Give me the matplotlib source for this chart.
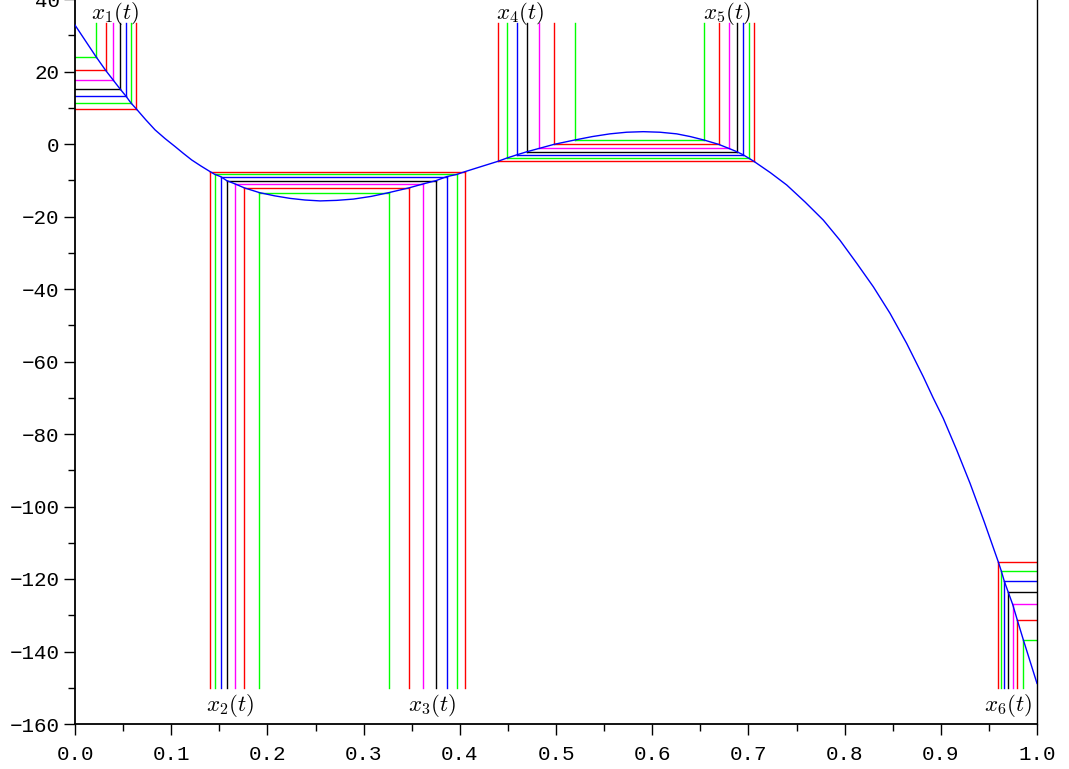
# Curve with level lines and root markers x1(t)..x6(t), Scilab-style axes.
import numpy as np
import matplotlib
matplotlib.use("Agg")
import matplotlib.pyplot as plt
from matplotlib.ticker import MultipleLocator, FuncFormatter

# --- curve ---
curve_x = [0.0, 0.0218, 0.0319, 0.0398, 0.0468, 0.0530, 0.0582, 0.0637, 0.0735,
           0.0832, 0.0936, 0.104, 0.1127, 0.1213, 0.1308, 0.1403, 0.1455, 0.1515,
           0.1577, 0.1663, 0.1760, 0.1916, 0.2075, 0.2235, 0.239, 0.2547, 0.272,
           0.2893, 0.308, 0.3264, 0.3472, 0.3621, 0.3753, 0.3864, 0.3968, 0.4057,
           0.4225, 0.4394, 0.4487, 0.4591, 0.4702, 0.4827, 0.4979, 0.5194, 0.5378,
           0.5561, 0.5735, 0.5908, 0.608, 0.6254, 0.6396, 0.6538, 0.6691, 0.6795,
           0.6878, 0.6947, 0.7003, 0.7058, 0.7228, 0.7398, 0.7589, 0.7779, 0.7953,
           0.8126, 0.8299, 0.8472, 0.8645, 0.8818, 0.892, 0.9026, 0.9165, 0.9304,
           0.9451, 0.9598, 0.9629, 0.9660, 0.9702, 0.9747, 0.9795, 0.9857, 1.0]
curve_y = [32.8, 24.1, 20.3, 17.6, 15.2, 13.2, 11.3, 9.7, 6.7,
           3.9, 1.5, -0.7, -2.6, -4.4, -6.05, -7.6, -8.4, -9.0,
           -10.1, -11.0, -12.1, -13.4, -14.3, -15.0, -15.45, -15.7, -15.55,
           -15.2, -14.45, -13.4, -12.1, -11.0, -10.1, -9.0, -8.4, -7.6,
           -6.2, -4.8, -3.9, -3.0, -2.1, -1.2, -0.1, 1.1, 2.05,
           2.8, 3.25, 3.4, 3.25, 2.8, 2.05, 1.1, -0.1, -1.2,
           -2.1, -3.0, -3.9, -4.8, -7.9, -11.3, -16.0, -21.0, -26.6,
           -32.9, -39.4, -46.7, -55.0, -64.2, -70.0, -75.7, -84.4, -93.6,
           -104.2, -115.3, -117.8, -120.6, -123.7, -127.0, -131.3, -136.7, -148.8]

# --- levels t and roots for each group (index i shares a colour) ---
t1 = [9.7, 11.3, 13.2, 15.2, 17.6, 20.3, 24.1]
x1 = [0.0637, 0.0582, 0.0530, 0.0468, 0.0398, 0.0319, 0.0218]

t23 = [-7.6, -8.4, -9.0, -10.1, -11.0, -12.1, -13.4]
x2 = [0.1403, 0.1455, 0.1515, 0.1577, 0.1663, 0.1760, 0.1916]
x3 = [0.4057, 0.3968, 0.3864, 0.3753, 0.3621, 0.3472, 0.3264]

t45 = [-4.8, -3.9, -3.0, -2.1, -1.2, -0.1, 1.1]
x4 = [0.4394, 0.4487, 0.4591, 0.4702, 0.4827, 0.4979, 0.5194]
x5 = [0.7058, 0.7003, 0.6947, 0.6878, 0.6795, 0.6691, 0.6538]

t6 = [-115.3, -117.8, -120.6, -123.7, -127.0, -131.3, -136.7]
x6 = [0.9598, 0.9629, 0.9660, 0.9702, 0.9747, 0.9795, 0.9857]

y_top = 33.3      # upper end of the upward root markers
y_bot = -150.2    # lower end of the downward root markers

colors = ["#ff0000", "#00ff00", "#0000ff", "#000000", "#ff00ff", "#ff0000", "#00ff00"]

labels = [("$x_1(t)$", 0.0416, 35.9), ("$x_2(t)$", 0.161, -154.8),
          ("$x_3(t)$", 0.371, -154.8), ("$x_4(t)$", 0.4626, 35.9),
          ("$x_5(t)$", 0.6778, 35.9), ("$x_6(t)$", 0.970, -154.8)]

W, H = 1069, 769
fig = plt.figure(figsize=(W / 100, H / 100), dpi=100)
ax = fig.add_axes([75 / W, 45 / H, 962 / W, 725 / H])
ax.set_xlim(0, 1)
ax.set_ylim(-160, 40)

lw = 1.0
for i, c in enumerate(colors):
    # group 1: from the left border to the curve, marker goes up
    ax.plot([0, x1[i]], [t1[i], t1[i]], color=c, lw=lw)
    ax.plot([x1[i], x1[i]], [t1[i], y_top], color=c, lw=lw)
    # groups 2/3: across the dip, markers go down
    ax.plot([x2[i], x3[i]], [t23[i], t23[i]], color=c, lw=lw)
    ax.plot([x2[i], x2[i]], [t23[i], y_bot], color=c, lw=lw)
    ax.plot([x3[i], x3[i]], [t23[i], y_bot], color=c, lw=lw)
    # groups 4/5: under the hump, markers go up
    ax.plot([x4[i], x5[i]], [t45[i], t45[i]], color=c, lw=lw)
    ax.plot([x4[i], x4[i]], [t45[i], y_top], color=c, lw=lw)
    ax.plot([x5[i], x5[i]], [t45[i], y_top], color=c, lw=lw)
    # group 6: from the curve to the right border, marker goes down
    ax.plot([x6[i], 1.0], [t6[i], t6[i]], color=c, lw=lw)
    ax.plot([x6[i], x6[i]], [t6[i], y_bot], color=c, lw=lw)

ax.plot(curve_x, curve_y, color="#0000ff", lw=1.0, zorder=5)

for txt, lx, ly in labels:
    ax.text(lx, ly, txt, ha="center", va="center", fontsize=16.5,
            math_fontfamily="cm", clip_on=False)

# axes look
for s in ["left", "bottom"]:
    ax.spines[s].set_linewidth(1.3)
ax.spines["right"].set_linewidth(1.0)
ax.spines["top"].set_visible(False)

ax.xaxis.set_major_locator(MultipleLocator(0.1))
ax.xaxis.set_minor_locator(MultipleLocator(0.05))
ax.yaxis.set_major_locator(MultipleLocator(20))
ax.yaxis.set_minor_locator(MultipleLocator(10))
ax.xaxis.set_major_formatter(FuncFormatter(lambda v, p: f"{v:.1f}"))
ax.yaxis.set_major_formatter(
    FuncFormatter(lambda v, p: f"{int(round(v))}".replace("-", "\u2212")))
ax.tick_params(which="major", direction="out", length=8, width=1.0, pad=7)
ax.tick_params(which="minor", direction="out", length=5, width=1.0)
ax.tick_params(axis="y", which="major", pad=3)
ax.tick_params(top=False, right=False, which="both")
for lab in ax.get_xticklabels() + ax.get_yticklabels():
    lab.set_fontfamily(["Liberation Mono", "DejaVu Sans Mono"])
    lab.set_fontsize(15)

fig.savefig("out.png", dpi=100)
